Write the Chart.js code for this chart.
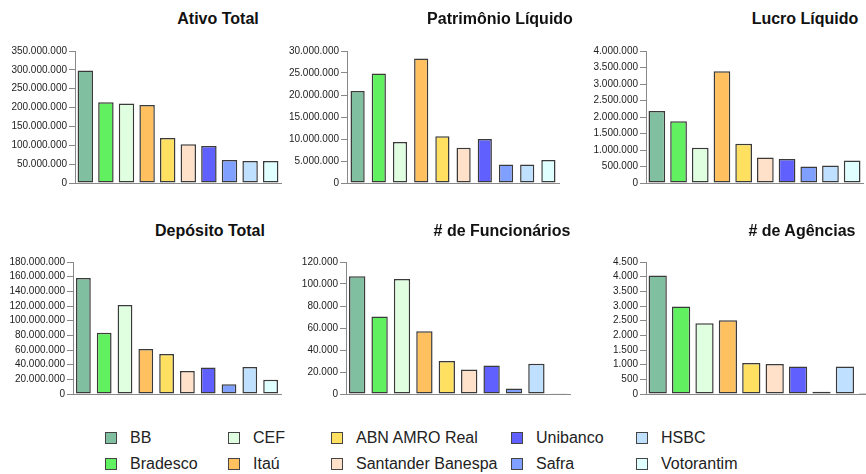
<!DOCTYPE html>
<html>
<head>
<meta charset="utf-8">
<script src="https://cdn.jsdelivr.net/npm/chart.js@4.4.1/dist/chart.umd.min.js"></script>
<style>
    body { margin: 0; background: #fff; }
    #page { position: relative; width: 866px; height: 474px; overflow: hidden; font-family: "Liberation Sans", Arial, sans-serif; }
    #page canvas { position: absolute; }
    .chart-title { position: absolute; font-weight: bold; font-size: 16px; color: #111; white-space: nowrap; transform: translate(-50%, -50%); }
    .legend-item { position: absolute; font-size: 16px; color: #222; white-space: nowrap; }
    .legend-box { position: absolute; left: 0; top: 0; width: 10px; height: 10px; border: 1px solid #444; }
    .legend-text { position: absolute; left: 25px; top: -3px; line-height: 18px; }
</style>
</head>
<body>
<div id="page"></div>
<script>
const banks = ["BB", "Bradesco", "CEF", "Itaú", "ABN AMRO Real", "Santander Banespa", "Unibanco", "Safra", "HSBC", "Votorantim"];
const bankColors = ["#80bf9f", "#60f060", "#e0ffe0", "#ffc060", "#ffe060", "#ffe0c8", "#6060ff", "#80a0ff", "#c0e0ff", "#e0ffff"];

const chartTitles = ["Ativo Total", "Patrimônio Líquido", "Lucro Líquido", "Depósito Total", "# de Funcionários", "# de Agências"];
const ativoTotal = [298600000, 214400000, 210900000, 206500000, 119600000, 102800000, 98400000, 61100000, 58500000, 58300000];
const patrimonioLiquido = [20900000, 24900000, 9300000, 28300000, 10600000, 8000000, 10000000, 4200000, 4200000, 5200000];
const lucroLiquido = [2180000, 1870000, 1070000, 3390000, 1190000, 770000, 730000, 500000, 530000, 680000];
const depositoTotal = [158100000, 83400000, 121200000, 61500000, 54700000, 31400000, 36000000, 13200000, 36900000, 19600000];
const funcionarios = [107000, 70500, 104500, 57100, 30100, 22200, 25800, 4900, 27400, 600];
const agencias = [4044, 2985, 2415, 2518, 1060, 1025, 934, 80, 934, 30];
const axisMax = [350000000, 30000000, 4000000, 180000000, 120000, 4500];
const axisStep = [50000000, 5000000, 500000, 20000000, 20000, 500];

const series = [ativoTotal, patrimonioLiquido, lucroLiquido, depositoTotal, funcionarios, agencias];

// plot areas (left, right, top, bottom) and title centres
const plotBoxes = [
    [75, 281, 51, 183], [347, 559, 51, 183], [646, 863, 51, 183],
    [73, 281, 262, 394], [346, 570, 262, 394], [646, 880, 262, 394]
];
const titlePos = [[218, 19], [500, 19], [805, 19], [210, 231], [502, 231], [802, 231]];
const barPct = [0.75, 0.67, 0.77, 0.71, 0.73, 0.78];

const AXW = 68, PT = 8, XH = 8;
const page = document.getElementById("page");

function fmt(v) {
    return String(v).replace(/\B(?=(\d{3})+(?!\d))/g, ".");
}

series.forEach(function(values, i) {
    const box = plotBoxes[i];
    const canvas = document.createElement("canvas");
    const w = box[1] - box[0] + AXW + 4;
    const h = box[3] - box[2] + PT + XH;
    canvas.width = w;
    canvas.height = h;
    canvas.style.left = (box[0] - AXW - 2) + "px";
    canvas.style.top = (box[2] - PT) + "px";
    canvas.style.width = w + "px";
    canvas.style.height = h + "px";
    page.appendChild(canvas);

    new Chart(canvas, {
        type: "bar",
        data: {
            labels: banks,
            datasets: [{
                data: values,
                backgroundColor: bankColors,
                borderColor: "#3a3a3a",
                borderWidth: 1.5,
                borderSkipped: false,
                categoryPercentage: 1,
                barPercentage: barPct[i]
            }]
        },
        options: {
            responsive: false,
            animation: false,
            layout: { padding: { left: 2, right: 2, top: PT, bottom: 0 } },
            plugins: { legend: { display: false }, tooltip: { enabled: false } },
            scales: {
                x: {
                    ticks: { display: false },
                    grid: { display: false, drawTicks: false },
                    border: { display: true, color: "#888", width: 1 },
                    afterFit: function(scale) { scale.height = XH; }
                },
                y: {
                    min: 0,
                    max: axisMax[i],
                    ticks: {
                        stepSize: axisStep[i],
                        autoSkip: false,
                        padding: 2,
                        color: "#222",
                        font: { family: "Liberation Sans, Arial, sans-serif", size: 10 },
                        callback: function(v) { return fmt(v); }
                    },
                    grid: { drawOnChartArea: false, tickLength: 6, color: "#888" },
                    border: { display: true, color: "#888", width: 1 },
                    afterFit: function(scale) { scale.width = AXW; }
                }
            }
        }
    });

    const t = document.createElement("div");
    t.className = "chart-title";
    t.textContent = chartTitles[i];
    t.style.left = titlePos[i][0] + "px";
    t.style.top = titlePos[i][1] + "px";
    page.appendChild(t);
});

// shared legend, column-major: 5 columns x 2 rows
const legendCols = [105, 228, 331, 511, 636];
const legendRows = [432, 458];
banks.forEach(function(name, i) {
    const item = document.createElement("div");
    item.className = "legend-item";
    item.style.left = legendCols[Math.floor(i / 2)] + "px";
    item.style.top = legendRows[i % 2] + "px";
    item.innerHTML = '<div class="legend-box" style="background:' + bankColors[i] + '"></div><div class="legend-text"></div>';
    item.querySelector(".legend-text").textContent = name;
    page.appendChild(item);
});
</script>
</body>
</html>
